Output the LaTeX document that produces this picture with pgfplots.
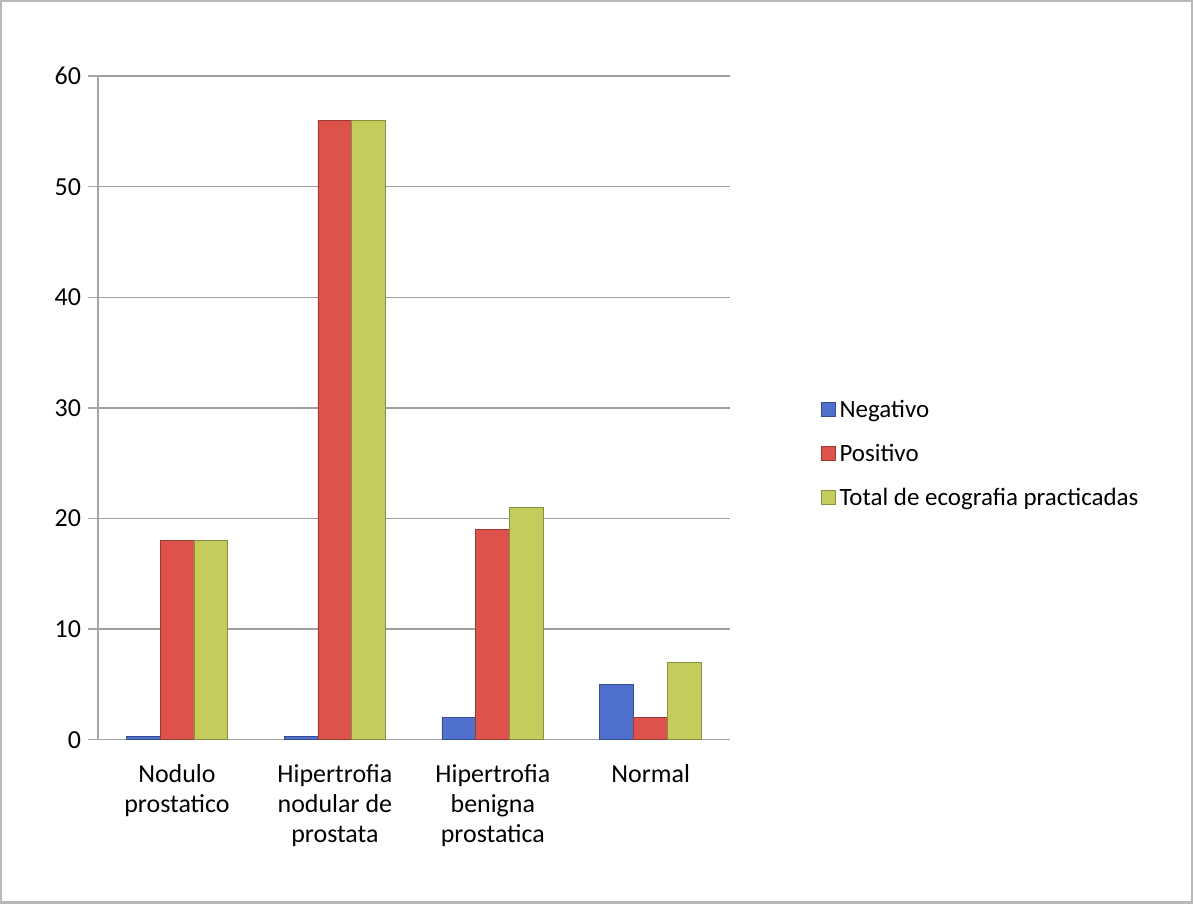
\documentclass[border=0pt]{standalone}
\usepackage{fontspec}
\setmainfont{Carlito}
\usepackage{pgfplots}
\pgfplotsset{compat=1.18}
\definecolor{negc}{RGB}{79,112,205}
\definecolor{posc}{RGB}{222,82,76}
\definecolor{totc}{RGB}{196,204,92}
\begin{document}
\begin{tikzpicture}[x=1pt,y=1pt]
\draw[gray!55, line width=1.2pt, fill=white] (0,0) rectangle (596.5,-451.5);
\begin{axis}[
  at={(48.5pt,-370pt)}, anchor=south west,
  width=316.5pt, height=332.5pt, scale only axis,
  xmin=-0.5, xmax=3.5, ymin=0, ymax=60,
  ytick={0,10,...,60},
  ymajorgrids, grid style={gray!75, line width=0.7pt},
  axis lines*=left,
  axis line style={gray!70, line width=0.7pt},
  tick style={gray!70, line width=0.7pt},
  tick align=outside,
  major tick length=5pt,
  xtick={0,1,2,3},
  xticklabels={Nodulo\\prostatico, Hipertrofia\\nodular de\\prostata, Hipertrofia\\benigna\\prostatica, Normal},
  x tick style={draw=none},
  minor xtick={-0.5,0.5,1.5,2.5,3.5},
  minor x tick style={gray!70, line width=0.7pt},
  minor tick length=6pt,
  xticklabel style={align=center, font=\fontsize{13}{15}\selectfont, yshift=-4pt},
  yticklabel style={font=\fontsize{13}{15}\selectfont},
  /pgf/number format/assume math mode=true,
  ybar=0pt, bar width=17pt,
  legend style={at={(1.134,0.43)}, anchor=west, draw=none, fill=none,
    font=\fontsize{12.5}{15}\selectfont, row sep=8pt, cells={anchor=west}},
  legend image code/.code={\fill[#1] (0pt,-3pt) rectangle (7pt,4pt);},
]
\addplot[fill=negc, draw=negc!70!black] coordinates {(0,0.3) (1,0.3) (2,2) (3,5)};
\addplot[fill=posc, draw=posc!70!black] coordinates {(0,18) (1,56) (2,19) (3,2)};
\addplot[fill=totc, draw=totc!70!black] coordinates {(0,18) (1,56) (2,21) (3,7)};
\legend{Negativo, Positivo, Total de ecografia practicadas}
\end{axis}
\end{tikzpicture}
\end{document}
